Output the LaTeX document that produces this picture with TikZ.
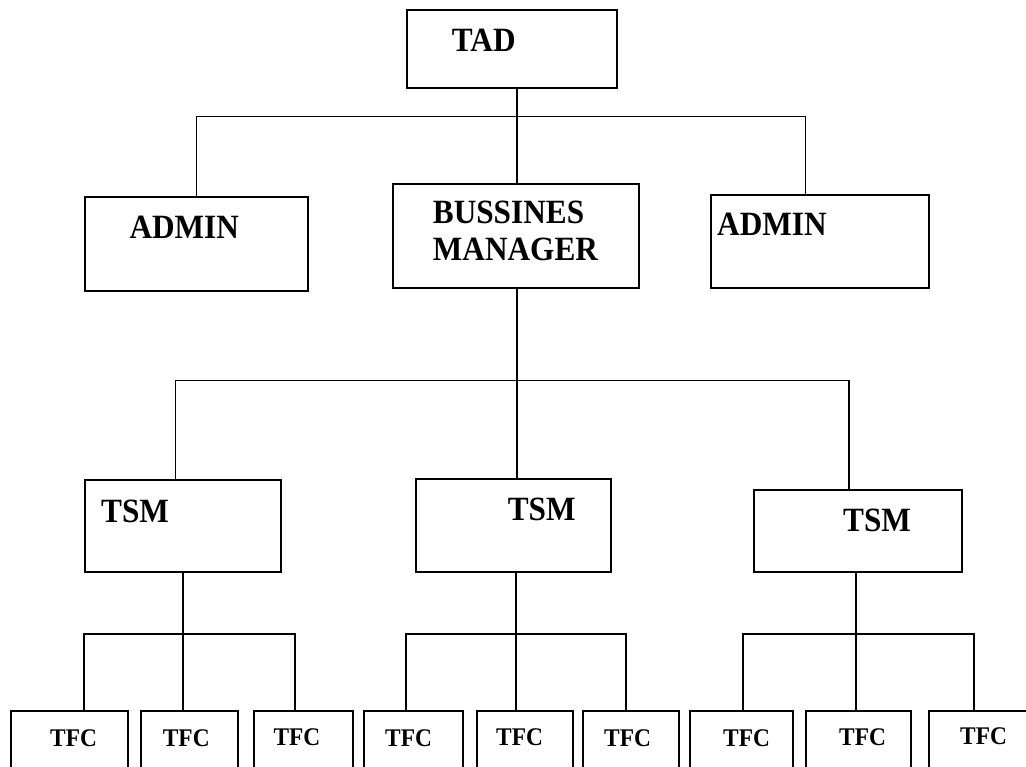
\documentclass[tikz,border=0pt]{standalone}
\usepackage{fontspec}
\setmainfont{Liberation Serif}[FakeStretch=0.92]
\begin{document}
\begin{tikzpicture}[x=1pt,y=-1pt,
  box/.style={draw=black,line width=2pt,rectangle,inner sep=0pt,anchor=north west,fill=white},
  conn/.style={draw=black,line width=1.5pt},
  connb/.style={draw=black,line width=2pt},
  big/.style={anchor=base west,inner sep=0pt,font=\fontsize{34}{38}\selectfont\bfseries},
  small/.style={anchor=base west,inner sep=0pt,font=\fontsize{25.4}{30}\selectfont\bfseries}]
\useasboundingbox (0,0) rectangle (1026,767);
\clip (0,0) rectangle (1026,767);
\fill[white] (0,0) rectangle (1026,767);
% boxes
\node[box,minimum width=210.3pt,minimum height=78pt] (tad) at (406,9.3) {};
\node[box,minimum width=223.3pt,minimum height=93.4pt] (admL) at (83.7,196.3) {};
\node[box,minimum width=245.7pt,minimum height=104pt] (bm) at (392,183.3) {};
\node[box,minimum width=217.7pt,minimum height=93.3pt] (admR) at (710.3,194) {};
\node[box,minimum width=196.6pt,minimum height=91.4pt] (tsm1) at (83.7,479.3) {};
\node[box,minimum width=194.7pt,minimum height=93pt] (tsm2) at (415.3,477.7) {};
\node[box,minimum width=208.3pt,minimum height=82pt] (tsm3) at (753,489.3) {};
\node[box,minimum width=117pt,minimum height=90pt] (tfc1) at (10,710) {};
\node[box,minimum width=97.3pt,minimum height=90pt] (tfc2) at (140,710) {};
\node[box,minimum width=99pt,minimum height=90pt] (tfc3) at (252.7,710) {};
\node[box,minimum width=99pt,minimum height=90pt] (tfc4) at (363.3,710) {};
\node[box,minimum width=96.3pt,minimum height=90pt] (tfc5) at (475.7,710) {};
\node[box,minimum width=96pt,minimum height=90pt] (tfc6) at (582,710) {};
\node[box,minimum width=103pt,minimum height=90pt] (tfc7) at (689,710) {};
\node[box,minimum width=105.3pt,minimum height=90pt] (tfc8) at (804.7,710) {};
\node[box,minimum width=110pt,minimum height=90pt] (tfc9) at (927.7,710) {};
% labels
\node[big] (tadt) at (451.7,51.7) {TAD};
\node[big] (admLt) at (129.3,238.7) {ADMIN};
\node[big] (bmt1) at (432.7,223.3) {BUSSINES};
\node[big] (bmt2) at (432.7,261) {MANAGER};
\node[big] (admRt) at (717,236) {ADMIN};
\node[big] (tsm1t) at (101,522.7) {TSM};
\node[big] (tsm2t) at (507.6,520) {TSM};
\node[big] (tsm3t) at (843,531.7) {TSM};
\node[small] (tfc1t) at (50,746) {TFC};
\node[small] (tfc2t) at (162.7,746) {TFC};
\node[small] (tfc3t) at (273.3,745) {TFC};
\node[small] (tfc4t) at (385,746) {TFC};
\node[small] (tfc5t) at (496,745) {TFC};
\node[small] (tfc6t) at (604,746.5) {TFC};
\node[small] (tfc7t) at (723,746) {TFC};
\node[small] (tfc8t) at (839,745) {TFC};
\node[small] (tfc9t) at (960,744.3) {TFC};
% junction coordinates
\coordinate (j0) at (517,116.3);
\coordinate (b1l) at (196.3,116.3);
\coordinate (b1r) at (805.7,116.3);
\coordinate (j1) at (517,380.3);
\coordinate (b2l) at (175.7,380.3);
\coordinate (b2r) at (849,380.3);
\coordinate (c1l) at (84,634.3);
\coordinate (c1m) at (183,634.3);
\coordinate (c1r) at (295.3,634.3);
\coordinate (c2l) at (406,634.3);
\coordinate (c2m) at (516,634.3);
\coordinate (c2r) at (625.8,634.3);
\coordinate (c3l) at (743,634.3);
\coordinate (c3m) at (856.3,634.3);
\coordinate (c3r) at (974.3,634.3);
% connectors
\draw[conn] (tad.south -| j0) -- (bm.north -| j0);
\draw[conn] (admL.north -| b1l) -- (b1l) -- (b1r) -- (admR.north -| b1r);
\draw[conn] (bm.south -| j1) -- (tsm2.north -| j1);
\draw[conn] (tsm1.north -| b2l) -- (b2l) -- (b2r) -- (tsm3.north -| b2r);
\draw[connb] (tsm1.south -| c1m) -- (tfc2.north -| c1m);
\draw[connb] (tfc1.north -| c1l) -- (c1l) -- (c1r) -- (tfc3.north -| c1r);
\draw[connb] (tsm2.south -| c2m) -- (tfc5.north -| c2m);
\draw[connb] (tfc4.north -| c2l) -- (c2l) -- (c2r) -- (tfc6.north -| c2r);
\draw[connb] (tsm3.south -| c3m) -- (tfc8.north -| c3m);
\draw[connb] (tfc7.north -| c3l) -- (c3l) -- (c3r) -- (tfc9.north -| c3r);
\end{tikzpicture}
\end{document}
